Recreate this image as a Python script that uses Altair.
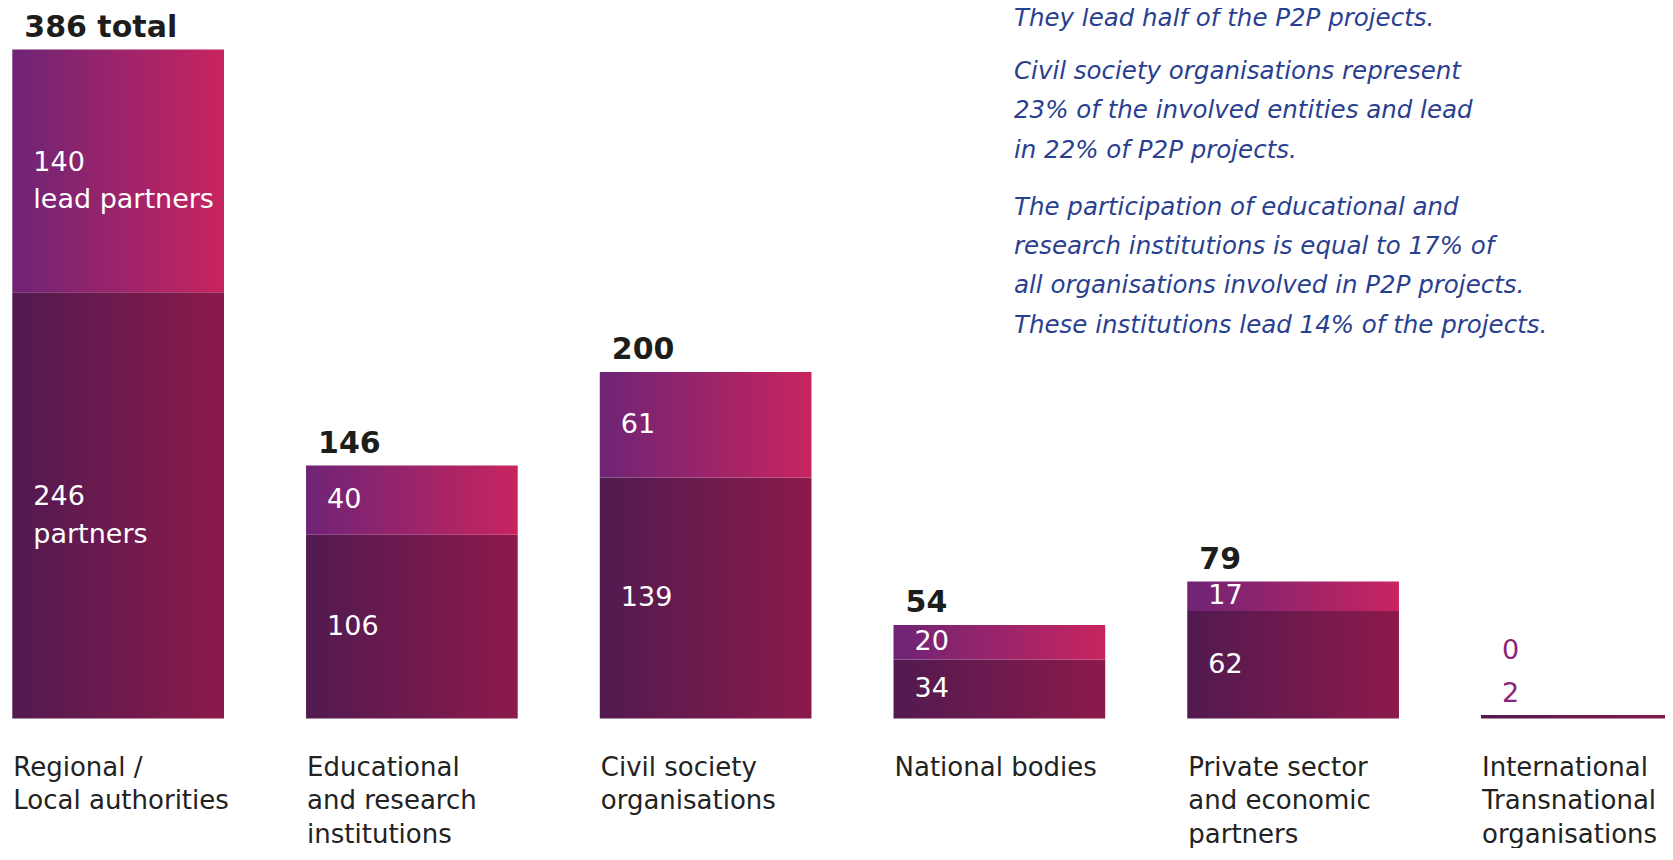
import altair as alt
import pandas as pd

# ---------------- data ----------------
categories = [
    "Regional / Local authorities",
    "Educational and research institutions",
    "Civil society organisations",
    "National bodies",
    "Private sector and economic partners",
    "International / Transnational organisations",
]
category_lines = [
    "Regional /\nLocal authorities",
    "Educational\nand research\ninstitutions",
    "Civil society\norganisations",
    "National bodies",
    "Private sector\nand economic\npartners",
    "International\nTransnational\norganisations",
]
lead = [140, 40, 61, 20, 17, 0]
partners = [246, 106, 139, 34, 62, 2]
total = [386, 146, 200, 54, 79, 2]
lead_note = ["lead partners", "", "", "", "", ""]
partner_note = ["partners", "", "", "", "", ""]
total_note = ["total", "", "", "", "", ""]

notes_p1 = ["They lead half of the P2P projects."]
notes_p2 = [
    "Civil society organisations represent",
    "23% of the involved entities and lead",
    "in 22% of P2P projects.",
]
notes_p3 = [
    "The participation of educational and",
    "research institutions is equal to 17% of",
    "all organisations involved in P2P projects.",
    "These institutions lead 14% of the projects.",
]

df = pd.DataFrame({
    "cat": categories,
    "cat_text": category_lines,
    "lead": lead,
    "partners": partners,
    "total": total,
    "lead_note": lead_note,
    "partner_note": partner_note,
    "total_note": total_note,
})
df["p0"] = 0
df["ltxt"] = [f"{v}\n{n}" if n else f"{v}" for v, n in zip(df["lead"], df["lead_note"])]
df["ptxt"] = [f"{v}\n{n}" if n else f"{v}" for v, n in zip(df["partners"], df["partner_note"])]
df["ttxt"] = [f"{v} {n}" if n else f"{v}" for v, n in zip(df["total"], df["total_note"])]

# ---------------- layout ----------------
FONT = "DejaVu Sans"
W, H = 1657, 840
BASE = 710.5     # chart px of zero line
PPU = 1.733      # px per unit
y_dom = [-(H - BASE) / PPU, BASE / PPU]
SHIFT = 8 / PPU  # raise two-line labels a little

x_scale = alt.Scale(domain=categories, range=[4.3, 1684.7],
                    paddingInner=0.2793, paddingOuter=0, round=False)
y_scale = alt.Scale(domain=y_dom, nice=False, zero=False)

X = alt.X("cat:N", scale=x_scale, axis=None)
Xs = alt.X("cat:N", scale=x_scale, axis=None, bandPosition=0)

def grad(c0, c1):
    return alt.Gradient(gradient="linear", x1=0, x2=1, y1=0, y2=0,
                        stops=[alt.GradientStop(offset=0, color=c0),
                               alt.GradientStop(offset=1, color=c1)])

base = alt.Chart(df)

bars_p = base.mark_bar(clip=True, color=grad("#511a50", "#8c1a4b")).encode(
    x=X, y=alt.Y("partners:Q", scale=y_scale, axis=None), y2=alt.Y2("p0:Q"))
bars_l = base.mark_bar(clip=True, color=grad("#6e2476", "#c8245f")).encode(
    x=X, y=alt.Y("total:Q", scale=y_scale, axis=None), y2=alt.Y2("partners:Q"))

txt_color = alt.when(alt.datum.total < 10).then(alt.value("#8c2478")).otherwise(alt.value("white"))

lbl_p = base.transform_calculate(
    py=f"max(datum.partners / 2, 14) + (datum.partner_note ? {SHIFT} : 0)",
    lines="split(datum.ptxt, '\\n')",
).mark_text(align="left", baseline="middle", dx=21, font=FONT, fontSize=27,
            lineHeight=37.5, clip=True).encode(
    x=Xs, y=alt.Y("py:Q", scale=y_scale, axis=None), text="lines:N", color=txt_color)

lbl_l = base.transform_calculate(
    py0="max(datum.partners / 2, 14)",
).transform_calculate(
    ly=f"max(datum.partners + datum.lead / 2, datum.py0 + 25) + (datum.lead_note ? {SHIFT} : 0)",
    lines="split(datum.ltxt, '\\n')",
).mark_text(align="left", baseline="middle", dx=21, font=FONT, fontSize=27,
            lineHeight=37.5, clip=True).encode(
    x=Xs, y=alt.Y("ly:Q", scale=y_scale, axis=None), text="lines:N", color=txt_color)

lbl_t = base.transform_filter("datum.total >= 10").mark_text(
    align="left", baseline="alphabetic", dx=12, dy=-12.5, font=FONT, fontSize=30,
    fontWeight="bold", color="#1d1d1b").encode(
    x=Xs, y=alt.Y("total:Q", scale=y_scale, axis=None), text="ttxt:N")

lbl_c = base.transform_calculate(lines="split(datum.cat_text, '\\n')").mark_text(
    align="left", baseline="alphabetic", dx=1, dy=57, font=FONT, fontSize=26,
    lineHeight=33.5, color="#222222", clip=True).encode(
    x=Xs, y=alt.Y("p0:Q", scale=y_scale, axis=None), text="lines:N")

def note(lines, y_first):
    return alt.Chart(alt.Data(values=[{"t": lines}])).mark_text(
        align="left", baseline="middle", font=FONT, fontSize=24.5, fontStyle="italic",
        lineHeight=39.4, color="#2a3f8f").encode(
        x=alt.value(1006), y=alt.value(y_first), text="t:N")

chart = alt.layer(
    bars_p, bars_l, lbl_p, lbl_l, lbl_t, lbl_c,
    note(notes_p1, 11), note(notes_p2, 64), note(notes_p3, 199.6),
).properties(
    width=W, height=H, padding=0, autosize=alt.AutoSizeParams(type="none")
).configure_view(stroke=None)

chart.save("out.html", embed_options={"renderer": "svg", "actions": False})
